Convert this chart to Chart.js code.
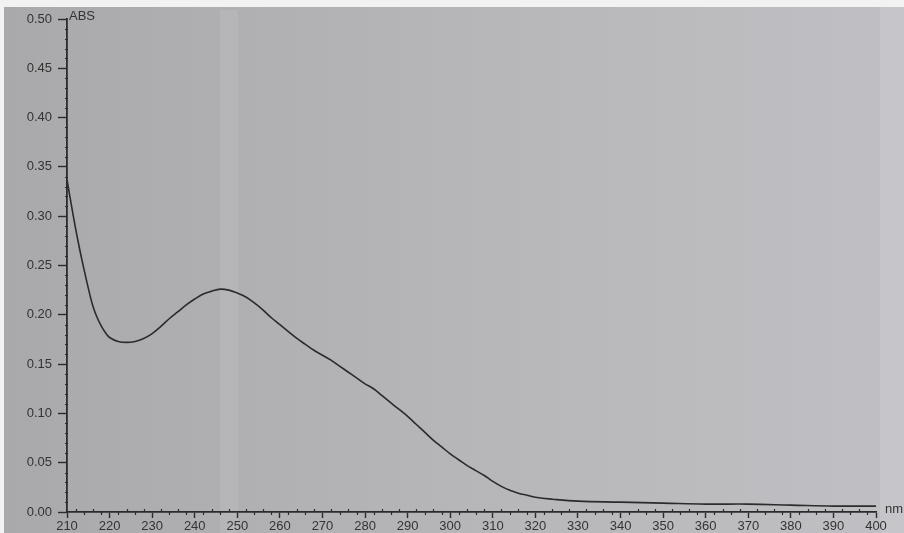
<!DOCTYPE html>
<html>
<head>
<meta charset="utf-8">
<script src="https://cdn.jsdelivr.net/npm/chart.js@4.4.0/dist/chart.umd.min.js"></script>
<style>
  html, body { margin: 0; padding: 0; background: #b4b4b8; overflow: hidden; }
  canvas { display: block; }
</style>
</head>
<body>
<canvas id="absChart" width="904" height="533"></canvas>
<script>
// UV absorbance spectrum
const wavelengths = [210, 211, 212, 213, 214, 215, 216, 217, 218, 219, 220, 222, 224, 226, 228, 230,
  232, 234, 236, 238, 240, 242, 244, 246, 248, 250, 252, 254, 256, 258, 260, 262, 264, 266, 268, 270,
  272, 274, 276, 278, 280, 282, 284, 286, 288, 290, 292, 294, 296, 298, 300, 302, 304, 306, 308, 310,
  312, 314, 316, 318, 320, 324, 330, 340, 350, 360, 370, 380, 390, 400];
const absorbance = [0.337, 0.312, 0.288, 0.266, 0.246, 0.227, 0.210, 0.198, 0.189, 0.182, 0.177, 0.173,
  0.172, 0.173, 0.176, 0.181, 0.188, 0.196, 0.203, 0.210, 0.216, 0.221, 0.224, 0.226, 0.225, 0.222,
  0.218, 0.212, 0.205, 0.197, 0.190, 0.183, 0.176, 0.170, 0.164, 0.159, 0.154, 0.148, 0.142, 0.136,
  0.130, 0.125, 0.118, 0.111, 0.104, 0.097, 0.089, 0.081, 0.073, 0.066, 0.059, 0.053, 0.047, 0.042,
  0.037, 0.031, 0.026, 0.022, 0.019, 0.017, 0.015, 0.013, 0.011, 0.010, 0.009, 0.008, 0.008, 0.007,
  0.006, 0.006];
const xTicks = [210, 220, 230, 240, 250, 260, 270, 280, 290, 300, 310, 320, 330, 340, 350, 360, 370, 380, 390, 400];
const yTicks = [0.00, 0.05, 0.10, 0.15, 0.20, 0.25, 0.30, 0.35, 0.40, 0.45, 0.50];

const ink = '#2b2b2d';
const labelFont = { family: '"Liberation Sans", Arial, sans-serif', size: 13 };

// photo-like grey paper behind everything
const paper = {
  id: 'paper',
  beforeDraw(chart) {
    const c = chart.ctx, w = chart.width, h = chart.height;
    c.save();
    const g = c.createLinearGradient(0, 0, w, 0);
    g.addColorStop(0, '#a9a9ab');
    g.addColorStop(0.5, '#b6b6b9');
    g.addColorStop(1, '#c0c0c4');
    c.fillStyle = g;
    c.fillRect(0, 0, w, h);
    c.fillStyle = 'rgba(255,255,255,0.08)';
    c.fillRect(220, 10, 18, h);
    c.fillStyle = 'rgba(255,255,255,0.1)';
    c.fillRect(880, 0, w - 880, h);
    c.fillStyle = '#f2f2f2';
    c.fillRect(0, 0, w, 7);
    c.fillRect(0, 0, 4, h);
    c.restore();
  }
};

// small minor ticks + axis captions
const minorTicks = {
  id: 'minorTicks',
  afterDraw(chart) {
    const c = chart.ctx, xs = chart.scales.x, ys = chart.scales.y;
    const x0 = xs.getPixelForValue(xs.min), y0 = ys.getPixelForValue(0);
    c.save();
    c.strokeStyle = ink;
    c.lineWidth = 1.2;
    c.beginPath();
    for (let v = 212; v < 400; v += 2) {
      if (v % 10 === 0) continue;
      const px = Math.round(xs.getPixelForValue(v)) + 0.5;
      const up = (v % 4 === 0);
      c.moveTo(px, y0);
      c.lineTo(px, up ? y0 - 3 : y0 + 3);
    }
    for (let i = 1; i < 50; i++) {
      if (i % 5 === 0) continue;
      const py = Math.round(ys.getPixelForValue(i / 100)) + 0.5;
      c.moveTo(x0 - 2, py);
      c.lineTo(x0 + 1, py);
    }
    c.stroke();
    c.fillStyle = '#333';
    c.font = '13px "Liberation Sans", Arial, sans-serif';
    c.textBaseline = 'middle';
    c.fillText('ABS', x0 + 2, ys.getPixelForValue(0.5) - 3);
    c.fillText('nm', xs.getPixelForValue(400) + 9, y0 - 3);
    c.restore();
  }
};

const points = wavelengths.map((w, i) => ({ x: w, y: absorbance[i] }));

new Chart(document.getElementById('absChart'), {
  type: 'line',
  data: {
    datasets: [{
      data: points,
      borderColor: ink,
      borderWidth: 1.6,
      pointRadius: 0,
      tension: 0.4,
      fill: false
    }]
  },
  options: {
    responsive: false,
    animation: false,
    devicePixelRatio: 1,
    layout: { padding: { left: 0, right: 28, top: 19, bottom: 0 } },
    plugins: { legend: { display: false }, tooltip: { enabled: false } },
    scales: {
      x: {
        type: 'linear',
        min: 210, max: 400,
        afterBuildTicks: (s) => { s.ticks = xTicks.map(v => ({ value: v })); },
        afterFit: (s) => { s.height = 21; },
        grid: { drawOnChartArea: false, tickLength: 6, tickColor: ink, tickWidth: 1.4 },
        border: { display: true, color: ink, width: 1.8 },
        ticks: {
          color: '#333',
          padding: 1,
          maxRotation: 0,
          autoSkip: false,
          font: labelFont,
          callback: (v) => String(v)
        }
      },
      y: {
        min: 0, max: 0.5,
        afterBuildTicks: (s) => { s.ticks = yTicks.map(v => ({ value: v })); },
        afterFit: (s) => { s.width = 67; },
        grid: { drawOnChartArea: false, tickLength: 9, tickColor: ink, tickWidth: 1.4 },
        border: { display: true, color: ink, width: 1.8 },
        ticks: {
          color: '#333',
          padding: 6,
          autoSkip: false,
          font: labelFont,
          callback: (v) => Number(v).toFixed(2)
        }
      }
    }
  },
  plugins: [paper, minorTicks]
});
</script>
</body>
</html>
